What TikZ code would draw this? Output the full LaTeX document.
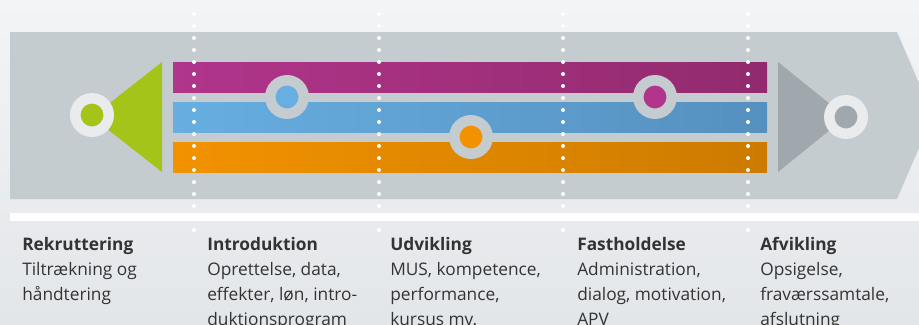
\documentclass[tikz,border=0pt]{standalone}
\usepackage{fontspec}
\setmainfont{Open Sans}
\usetikzlibrary{positioning}
\definecolor{bgtop}{HTML}{F3F4F6}
\definecolor{bgbot}{HTML}{E3E6E9}
\definecolor{band}{HTML}{C5CCD0}
\definecolor{ringlight}{HTML}{E9EBED}
\definecolor{green}{HTML}{A5C41A}
\definecolor{greytri}{HTML}{A0A8AD}
\definecolor{purpleL}{HTML}{B0358B}
\definecolor{purpleR}{HTML}{922A6E}
\definecolor{blueL}{HTML}{67AEE1}
\definecolor{blueR}{HTML}{5590BF}
\definecolor{orangeL}{HTML}{F29200}
\definecolor{orangeR}{HTML}{CC7B00}
\definecolor{txt}{HTML}{333333}
\def\Xcols{194,379,563,748}

\begin{document}
\begin{tikzpicture}[% one unit is one pixel of the reference
				x=0.025cm, y=-0.025cm,
				hub/.style 2 args={
					circle, inner sep=0pt,
					minimum size=0.835cm,	% outer radius 22px, inner 11.5px
					line width=0.2625cm,
					draw=#1, fill=#2
				},
				bar/.style 2 args={left color=#1, right color=#2},
				phase/.style={
					anchor=north west, align=left, inner sep=0pt,
					text=txt, font=\fontsize{12.3}{17.8}\selectfont
				},
				dots/.style={white, line width=0.1cm, line cap=round,
					dash pattern=on 0pt off 0.3cm}
			]
			\clip (0,0) rectangle (919,324);
			\fill[top color=bgtop, bottom color=bgbot] (0,0) rectangle (919,324);
			% grey arrow band and white strip
			\fill[band] (10,32) -- (897,32) -- (933,115.5) -- (897,199) -- (10,199) -- cycle;
			\fill[white] (10,213) rectangle (919,221);
			% triangles at both ends
			\fill[green] (162,62) -- (162,172) -- (92,117) -- cycle;
			\fill[greytri] (778,62) -- (778,172) -- (846,117) -- cycle;
			% the three bars
			\fill[bar={purpleL}{purpleR}] (173,62) rectangle (767,92);
			\fill[bar={blueL}{blueR}] (173,102) rectangle (767,132);
			\fill[bar={orangeL}{orangeR}] (173,142) rectangle (767,172);
			% dotted separators
			\foreach \x in \Xcols
				\draw[dots] (\x,14) -- (\x,236);
			% hubs
			\node[hub={ringlight}{green}] (H1) at (92,115) {};
			\node[hub={band}{blueL}] (H2) at (287,97) {};
			\node[hub={band}{orangeL}] (H3) at (471,137) {};
			\node[hub={band}{purpleL}] (H4) at (655,97) {};
			\node[hub={ringlight}{greytri}] (H5) at (846,117) {};
			% phase texts
			\node[phase] (T1) at (22,237) {\textbf{Rekruttering}\\Tiltrækning og\\håndtering};
			\node[phase] (T2) at (207,237) {\textbf{Introduktion}\\Oprettelse, data,\\effekter, løn, intro-\\duktionsprogram};
			\node[phase] (T3) at (390,237) {\textbf{Udvikling}\\MUS, kompetence,\\performance,\\kursus mv.};
			\node[phase] (T4) at (577,237) {\textbf{Fastholdelse}\\Administration,\\dialog, motivation,\\APV};
			\node[phase] (T5) at (760,237) {\textbf{Afvikling}\\Opsigelse,\\fraværssamtale,\\afslutning};
		\end{tikzpicture}
\end{document}
